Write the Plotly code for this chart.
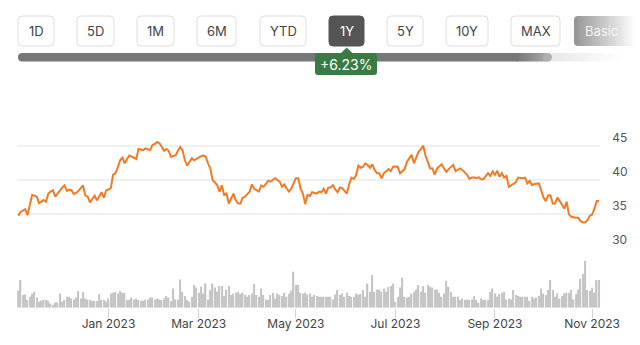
import plotly.graph_objects as go
import pandas as pd

# ---------------- data ----------------
START = "2022-11-04"
END = "2023-11-06"
HOLIDAYS = ["2022-11-24", "2022-12-26", "2023-01-02", "2023-01-16", "2023-02-20",
            "2023-04-07", "2023-05-29", "2023-06-19", "2023-07-04", "2023-09-04"]

PRICE = [
    34.75, 35.3, 35.5, 35.7, 34.85, 36.5, 37.8, 37.7, 37.55, 36.6,
    36.8, 37.05, 36.8, 38.0, 38.3, 38.5, 37.55, 38.0, 38.5, 38.9,
    39.2, 38.4, 38.6, 38.5, 37.95, 38.1, 38.4, 38.8, 39.2, 37.7,
    37.55, 36.7, 37.2, 37.7, 37.0, 37.6, 38.2, 37.4, 38.5, 38.6,
    38.8, 40.8, 41.0, 41.8, 42.9, 43.3, 42.45, 43.1, 43.6, 43.45,
    43.3, 43.1, 44.55, 44.5, 44.4, 44.65, 44.5, 44.4, 45.15, 45.3,
    45.6, 45.4, 44.9, 44.3, 44.55, 44.3, 43.4, 43.5, 43.65, 44.3,
    44.85, 44.4, 42.9, 42.1, 42.7, 43.2, 42.9, 43.1, 43.4, 43.5,
    43.6, 43.45, 42.45, 41.7, 40.0, 39.6, 39.25, 38.3, 39.2, 37.8,
    38.0, 36.55, 37.3, 38.0, 37.05, 36.55, 36.55, 37.4, 37.55, 37.9,
    38.3, 39.35, 38.7, 38.5, 38.3, 39.2, 39.0, 39.4, 39.9, 39.75,
    40.0, 40.25, 40.0, 39.75, 39.0, 39.35, 38.75, 38.3, 38.75, 39.6,
    40.25, 40.25, 38.75, 38.0, 36.45, 37.8, 37.65, 38.2, 38.1, 38.0,
    38.3, 38.2, 38.7, 38.0, 38.9, 38.9, 39.25, 38.6, 38.2, 38.9,
    38.8, 38.4, 38.0, 39.35, 40.35, 40.15, 40.7, 42.1, 41.8, 41.95,
    42.45, 42.2, 41.8, 42.3, 41.5, 41.0, 41.0, 40.25, 41.0, 41.3,
    41.6, 41.3, 41.95, 42.0, 41.95, 41.0, 41.3, 41.6, 42.7, 43.2,
    43.7, 42.45, 43.3, 44.15, 44.55, 45.05, 43.6, 42.7, 41.7, 41.7,
    40.8, 41.7, 42.0, 42.3, 41.7, 41.2, 41.6, 41.95, 42.2, 41.3,
    41.45, 41.7, 41.45, 41.1, 40.75, 40.15, 40.35, 40.35, 40.3, 40.4,
    40.1, 40.1, 40.6, 41.0, 40.6, 41.25, 40.75, 41.35, 40.5, 41.0,
    40.35, 40.6, 39.0, 39.2, 39.4, 39.65, 40.35, 40.3, 40.25, 40.35,
    39.5, 39.85, 39.25, 39.4, 39.5, 39.5, 38.5, 37.4, 36.9, 37.75,
    37.75, 36.55, 36.55, 37.4, 36.9, 36.4, 35.8, 36.8, 34.95, 34.6,
    34.5, 34.45, 34.45, 33.95, 33.8, 33.75, 34.1, 34.75, 34.9, 35.75,
    36.9, 36.9,
]

VOLUME = [
    17, 27.7, 12.7, 13.3, 7.7, 11, 14.3, 16, 10.3, 6,
    7, 7.7, 7.7, 7, 4.3, 2.7, 5.3, 5.3, 14.3, 6,
    7.7, 11, 11, 9.3, 8.3, 10.3, 16.7, 9.3, 15.7, 9.3,
    8.3, 7.7, 6.7, 6.7, 6.7, 13.7, 7.7, 7.7, 6, 9.3,
    14.3, 15, 15.7, 14.3, 16.7, 15, 15, 7.7, 7.7, 10.3,
    8.3, 9.3, 7.7, 7, 7, 8.3, 8.3, 10.3, 10.3, 8.3,
    9.3, 8.3, 7.7, 9.3, 11.7, 10.3, 6.7, 19.3, 8.3, 8.3,
    28.3, 16, 11.7, 7.7, 6, 11, 22.7, 20.3, 15, 21,
    14.3, 24.3, 8.3, 17.7, 24.3, 20.3, 16, 21.7, 21.7,
    11.7, 18.3, 21.7, 12.7, 14.3, 15, 16, 13.7, 15, 12.7, 11,
    12.7, 14.3, 23.7, 12.7, 11, 19.3, 12.7, 8.3, 7.7, 12.7,
    15, 9.3, 14.3, 12.7, 11.7, 15, 11, 14, 17, 36,
    22.7, 22.7, 15, 14.3, 15, 13.3, 14.3, 11, 12.7, 11.7, 11,
    11, 11, 11, 11, 11, 8.3,
    13.3, 17.7, 12.7, 14.3, 11, 15.3,
    11.7, 11, 11, 14.3, 13.3, 13.7,
    17.7, 11, 24.3, 16, 32.7, 16,
    18.3, 18.3, 16, 19.3, 16, 21,
    21.7, 24.3, 6, 11, 20.3, 30.3,
    11, 10.3, 11, 14.3, 16, 18.3, 22.7,
    16, 21.7, 15, 22.7, 21,
    20.3, 18.3, 18.3, 15, 11, 14.3,
    27, 21, 16, 11, 11, 11,
    7.7, 9.3, 7.7, 8.3, 7.7, 8.3,
    11.7, 7.7, 5, 9.3, 7.7, 8.3,
    7.7, 16, 19.3, 14.3, 11, 13.7,
    15, 16, 8.3, 9.3, 8.3, 17.7,
    12.7, 11.7, 11, 11, 11, 11,
    7, 11, 9.3, 10.3, 11.7, 19.3,
    14.3, 12.7, 17.7, 27.7, 17.7, 11,
    14.3, 9.3, 11.7, 14.3, 15, 15,
    17.7, 8.3, 13.7, 18.3, 29.3, 33.7,
    46.7, 17.7, 17, 20, 15, 27.7, 27.7,
]

TICK_DATES = ["2023-01-03", "2023-03-01", "2023-05-01", "2023-07-03", "2023-09-01", "2023-11-01"]
TICK_LABELS = ["Jan 2023", "Mar 2023", "May 2023", "Jul 2023", "Sep 2023", "Nov 2023"]
PRICE_TICKS = [30, 35, 40, 45]
GRID_LEVELS = [35, 40, 45]
RANGE_BUTTONS = ["1D", "5D", "1M", "6M", "YTD", "1Y", "5Y", "10Y", "MAX", "Basic"]
SELECTED = "1Y"
CHANGE_LABEL = "+6.23%"

dates = pd.bdate_range(START, END, freq="C", holidays=HOLIDAYS).strftime("%Y-%m-%d").tolist()
assert len(dates) == len(PRICE) == len(VOLUME), (len(dates), len(PRICE), len(VOLUME))

# ---------------- layout helpers ----------------
W, H = 640, 345
FONT = "Inter"


def px(x):
    return x / W


def py(y):
    return 1 - y / H


def rrect(x0, y0, x1, y1, r):
    return (f"M {px(x0 + r)},{py(y0)} L {px(x1 - r)},{py(y0)} Q {px(x1)},{py(y0)} {px(x1)},{py(y0 + r)} "
            f"L {px(x1)},{py(y1 - r)} Q {px(x1)},{py(y1)} {px(x1 - r)},{py(y1)} "
            f"L {px(x0 + r)},{py(y1)} Q {px(x0)},{py(y1)} {px(x0)},{py(y1 - r)} "
            f"L {px(x0)},{py(y0 + r)} Q {px(x0)},{py(y0)} {px(x0 + r)},{py(y0)} Z")


def lerp_color(c0, c1, t):
    t = max(0.0, min(1.0, t))
    c = [round(a + (b - a) * t) for a, b in zip(c0, c1)]
    return f"rgb({c[0]},{c[1]},{c[2]})"


shapes = []
annotations = []

# ---------------- figure ----------------
fig = go.Figure()
fig.add_trace(go.Bar(x=dates, y=VOLUME, xaxis="x", yaxis="y",
                     marker=dict(color="#c3c3c3", line=dict(width=0)), hoverinfo="skip"))
fig.add_trace(go.Scatter(x=dates, y=PRICE, xaxis="x", yaxis="y2", mode="lines",
                         line=dict(color="#f27a24", width=2), hoverinfo="skip"))

# grid lines for price panel
for g in GRID_LEVELS:
    shapes.append(dict(type="line", xref="x domain", yref="y2", x0=0, x1=1, y0=g, y1=g,
                       line=dict(color="#e2e2e2", width=1.2), layer="below"))

# --- top range buttons ---
BUTTON_X = [(18, 54), (77, 114), (137, 174), (197, 236), (260, 306),
            (329, 364), (387, 423), (446, 488), (511, 560), (574, 700)]
BY0, BY1 = 16, 46
for label, (x0, x1) in zip(RANGE_BUTTONS, BUTTON_X):
    if label == "Basic":
        shapes.append(dict(type="path", path=rrect(x0, BY0, x0 + 14, BY1, 4), xref="paper", yref="paper",
                           fillcolor="rgb(150,150,150)", line=dict(width=0), layer="above"))
        for sx in range(x0 + 4, W, 2):
            col = lerp_color((150, 150, 150), (255, 255, 255), (sx - x0) / 60.0)
            shapes.append(dict(type="rect", xref="paper", yref="paper", x0=px(sx), x1=px(sx + 2.2),
                               y0=py(BY1), y1=py(BY0), fillcolor=col, line=dict(width=0), layer="above"))
        annotations.append(dict(x=px(601), y=py(31), xref="paper", yref="paper", text=label,
                                showarrow=False, xanchor="center", yanchor="middle",
                                font=dict(family=FONT, size=13, color="#f4f4f4")))
        continue
    sel = label == SELECTED
    shapes.append(dict(type="path", path=rrect(x0, BY0, x1, BY1, 4), xref="paper", yref="paper",
                       fillcolor="#555555" if sel else "#ffffff",
                       line=dict(color="#555555" if sel else "#dedede", width=1), layer="above"))
    annotations.append(dict(x=px((x0 + x1) / 2), y=py(31), xref="paper", yref="paper", text=label,
                            showarrow=False, xanchor="center", yanchor="middle",
                            font=dict(family=FONT, size=13, color="#ffffff" if sel else "#444444")))

# --- progress bar ---
shapes.append(dict(type="path", path=rrect(18, 53, 520, 61.5, 4.2), xref="paper", yref="paper",
                   fillcolor="#777777", line=dict(width=0), layer="above"))
for sx in range(516, 548, 2):
    col = lerp_color((119, 119, 119), (172, 172, 172), (sx - 516) / 32.0)
    shapes.append(dict(type="rect", xref="paper", yref="paper", x0=px(sx), x1=px(sx + 2.2),
                       y0=py(61.5), y1=py(53), fillcolor=col, line=dict(width=0), layer="above"))
shapes.append(dict(type="path", path=rrect(543, 53, 552, 61.5, 4.2), xref="paper", yref="paper",
                   fillcolor="rgb(175,175,175)", line=dict(width=0), layer="above"))
for sx in range(552, W, 3):
    col = lerp_color((232, 232, 232), (255, 255, 255), (sx - 552) / 70.0)
    shapes.append(dict(type="rect", xref="paper", yref="paper", x0=px(sx), x1=px(sx + 3.2),
                       y0=py(61.5), y1=py(53), fillcolor=col, line=dict(width=0), layer="above"))

# --- change badge ---
BADGE_GREEN = "#3a7b45"
shapes.append(dict(type="path",
                   path=f"M {px(340.5)},{py(53.5)} L {px(346.7)},{py(47.5)} L {px(352.9)},{py(53.5)} Z",
                   xref="paper", yref="paper", fillcolor=BADGE_GREEN, line=dict(width=0), layer="above"))
shapes.append(dict(type="path", path=rrect(315, 53, 377, 75, 3), xref="paper", yref="paper",
                   fillcolor=BADGE_GREEN, line=dict(width=0), layer="above"))
annotations.append(dict(x=px(346), y=py(64.5), xref="paper", yref="paper", text=CHANGE_LABEL,
                        showarrow=False, xanchor="center", yanchor="middle",
                        font=dict(family=FONT, size=14, color="#ffffff")))

# ---------------- axes ----------------
X_LEFT, X_RIGHT = 17.1, 600.2
VOL_BASE, VOL_TOP = 307.7, 261
PRICE_BOTTOM, PRICE_TOP = 248, 131

fig.update_layout(
    width=W, height=H,
    margin=dict(l=0, r=0, t=0, b=0, pad=0, autoexpand=False),
    paper_bgcolor="#ffffff", plot_bgcolor="#ffffff",
    showlegend=False,
    bargap=0.45,
    font=dict(family=FONT),
    xaxis=dict(
        type="category", domain=[px(X_LEFT), px(X_RIGHT)], anchor="y",
        range=[-0.5, len(dates) - 0.5], automargin=False,
        tickmode="array", tickvals=TICK_DATES, ticktext=TICK_LABELS,
        ticks="outside", ticklen=9, tickwidth=1, tickcolor="#d4d4d4",
        ticklabelstandoff=-4,
        tickfont=dict(family=FONT, size=12, color="#444444"),
        showgrid=False, showline=False, zeroline=False, fixedrange=True,
    ),
    yaxis=dict(
        domain=[py(VOL_BASE), py(VOL_TOP)], anchor="x", automargin=False,
        range=[0, max(VOLUME)],
        showticklabels=False, showgrid=False, zeroline=False, showline=False, ticks="",
        fixedrange=True,
    ),
    yaxis2=dict(
        domain=[py(PRICE_BOTTOM), py(PRICE_TOP)], anchor="x", side="right", automargin=False,
        range=[30, 45 + 15 * (146 - PRICE_TOP) / (PRICE_BOTTOM - 146)],
        tickmode="array", tickvals=PRICE_TICKS,
        ticklabelposition="outside top", ticklabelstandoff=11,
        tickfont=dict(family=FONT, size=12, color="#555555"),
        showgrid=False, zeroline=False, showline=False, ticks="",
        fixedrange=True,
    ),
    shapes=shapes,
    annotations=annotations,
)

fig.write_html("out.html")
